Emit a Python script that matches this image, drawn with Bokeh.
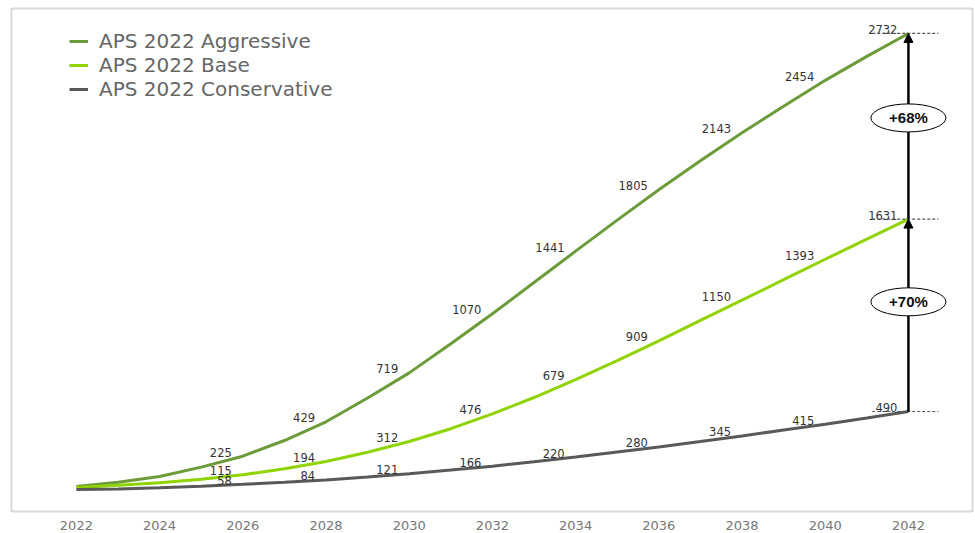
from bokeh.plotting import figure
from bokeh.models import Range1d, FixedTicker, Legend, LegendItem, Arrow, NormalHead
from bokeh.embed import file_html
from bokeh.resources import INLINE
from bokeh.core.properties import value

years = list(range(2022, 2043))
aggressive = [45, 70, 105, 160, 225, 318, 429, 570, 719, 892, 1070, 1255, 1441, 1625, 1805, 1977, 2143, 2300, 2454, 2596, 2732]
base = [40, 52, 68, 88, 115, 150, 194, 248, 312, 388, 476, 573, 679, 792, 909, 1030, 1150, 1272, 1393, 1512, 1631]
conservative = [27, 31, 38, 47, 58, 70, 84, 101, 121, 143, 166, 192, 220, 250, 280, 312, 345, 380, 415, 452, 490]
series_names = ["APS 2022 Aggressive", "APS 2022 Base", "APS 2022 Conservative"]
series_colors = ["#6c9b3a", "#8fd400", "#595959"]
label_years = list(range(2026, 2043, 2))
tick_years = list(range(2022, 2043, 2))
gap_labels = ["+70%", "+68%"]

p = figure(width=975, height=533, output_backend="svg", toolbar_location=None,
           x_range=Range1d(2020.44, 2043.54), y_range=Range1d(-103, 2880),
           y_axis_location=None,
           min_border_left=11, min_border_right=3, min_border_top=8, min_border_bottom=22)
p.grid.visible = False
p.outline_line_color = "#d9d9d9"
p.outline_line_width = 2
p.background_fill_color = "white"

ax = p.xaxis[0]
ax.ticker = FixedTicker(ticks=tick_years)
ax.axis_line_color = None
ax.major_tick_line_color = None
ax.minor_tick_line_color = None
ax.major_label_text_font = "DejaVu Sans"
ax.major_label_text_font_size = "13px"
ax.major_label_text_color = "#777777"
ax.major_label_standoff = 3

renderers = []
for vals, col in zip([aggressive, base, conservative], series_colors):
    r = p.line(years, vals, line_color=col, line_width=3)
    renderers.append(r)
    lx = label_years
    ly = [vals[years.index(y)] for y in label_years]
    p.text(x=lx, y=ly, text=[str(v) for v in ly], text_align="right", text_baseline="alphabetic",
           x_offset=-11, y_offset=-4, text_font=value("DejaVu Sans"), text_font_size="11.5px",
           text_color="#333333")

ends = [aggressive[-1], base[-1], conservative[-1]]
x_last = years[-1]
p.segment(x0=[x_last - 0.87] * 3, y0=ends, x1=[x_last + 0.72] * 3, y1=ends,
          line_color="#555555", line_width=1.2, line_dash="3 2")

p.add_layout(Arrow(end=NormalHead(size=9, fill_color="black", line_color="black"),
                   x_start=x_last, y_start=conservative[-1], x_end=x_last, y_end=base[-1],
                   line_width=2.5, line_color="black"))
p.add_layout(Arrow(end=NormalHead(size=9, fill_color="black", line_color="black"),
                   x_start=x_last, y_start=base[-1], x_end=x_last, y_end=aggressive[-1],
                   line_width=2.5, line_color="black"))

gy = [conservative[-1] + 0.57 * (base[-1] - conservative[-1]),
      base[-1] + 0.545 * (aggressive[-1] - base[-1])]
e = p.ellipse(x=[x_last] * 2, y=gy, width=75, height=28, width_units="screen", height_units="screen",
              fill_color="white", line_color="black", line_width=1)
e.level = "overlay"
t = p.text(x=[x_last] * 2, y=gy, text=gap_labels, text_align="center", text_baseline="middle",
           text_font=value("Liberation Sans"), text_font_style="bold", text_font_size="15px",
           text_color="#111111")
t.level = "overlay"

legend = Legend(items=[LegendItem(label=n, renderers=[r]) for n, r in zip(series_names, renderers)],
                location=(58, 410), margin=0, padding=5, spacing=0,
                label_height=22, glyph_height=22, glyph_width=19, label_standoff=11,
                label_text_font="DejaVu Sans", label_text_font_size="20px",
                label_text_line_height=1.0,
                label_text_color="#666666", border_line_color=None, background_fill_alpha=0)
p.add_layout(legend)

open("out.html", "w").write(file_html(p, INLINE))
